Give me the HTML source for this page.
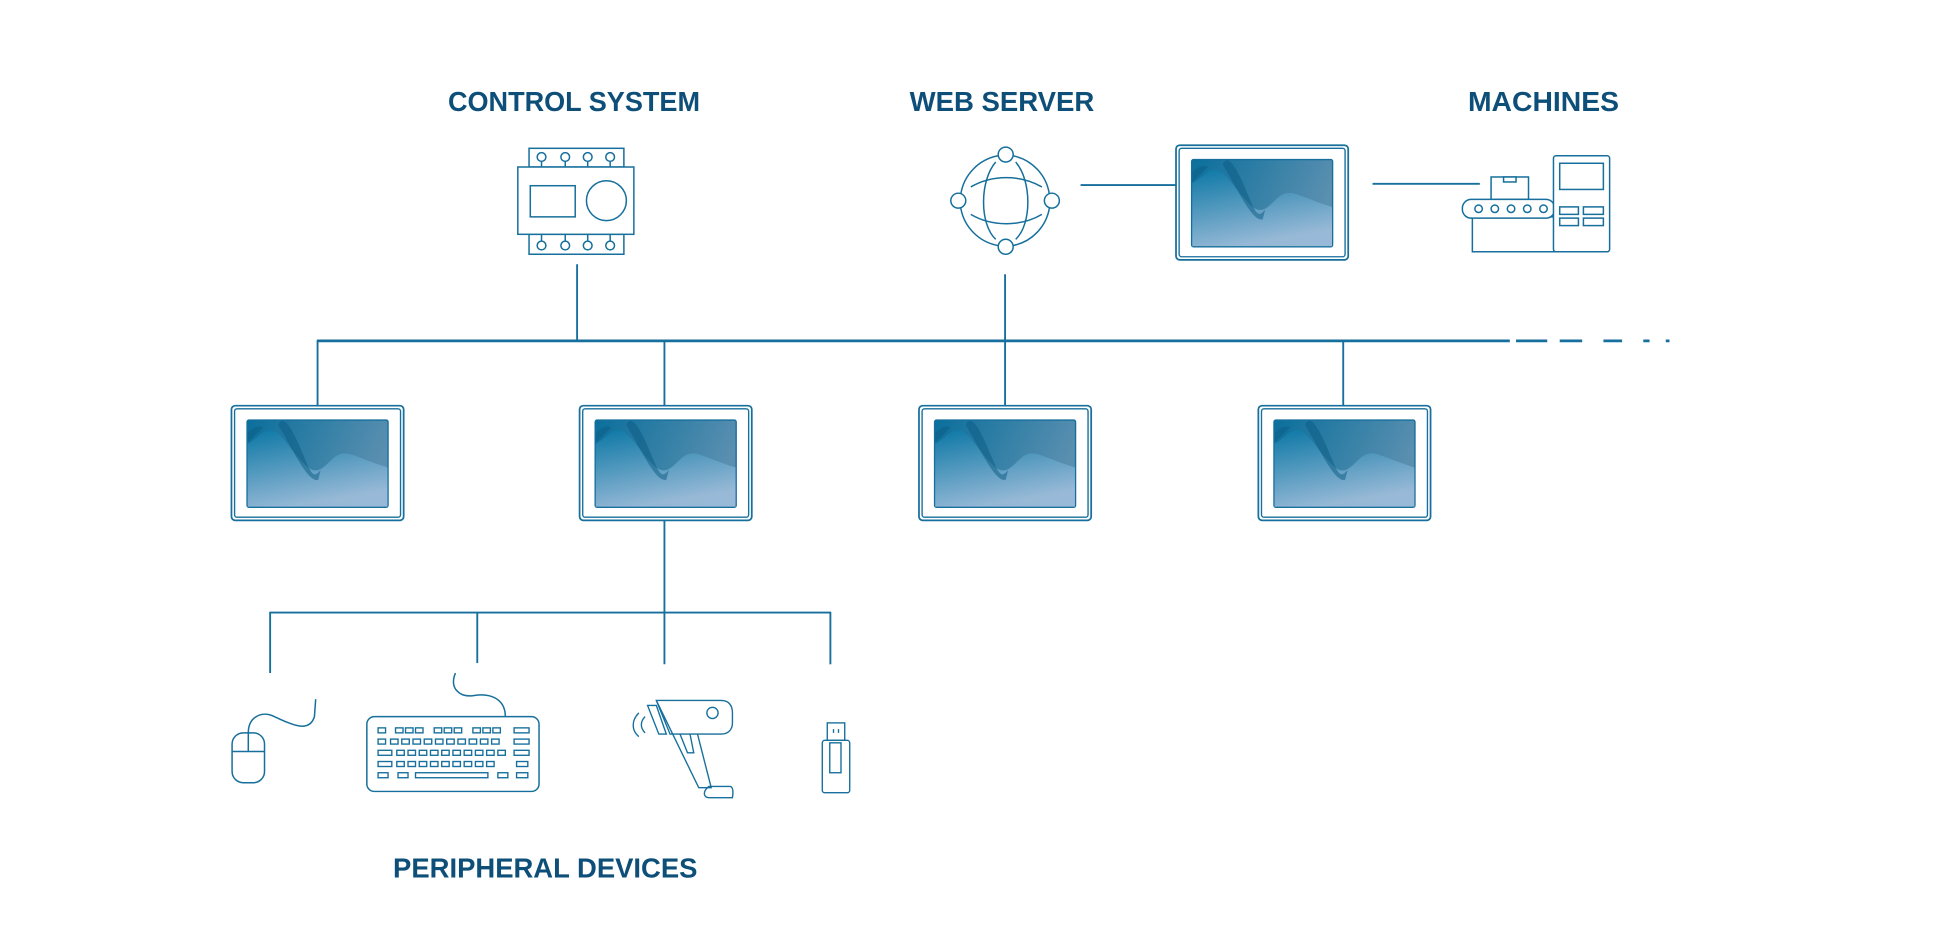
<!DOCTYPE html>
<html><head><meta charset="utf-8"><style>
html,body{margin:0;padding:0;background:#fff;}
svg{display:block;}
text{font-family:"Liberation Sans",sans-serif;font-weight:bold;fill:#0d4f78;}
</style></head><body>
<svg width="1954" height="941" viewBox="0 0 1566 755" preserveAspectRatio="none" xmlns="http://www.w3.org/2000/svg">
<defs>
<linearGradient id="g" x1="0" y1="0" x2="0.3" y2="1">
<stop offset="0" stop-color="#0b78a6"/><stop offset="1" stop-color="#9fbedb"/>
</linearGradient>
<linearGradient id="g2" x1="0" y1="0" x2="1" y2="0.3">
<stop offset="0" stop-color="#0a6f9c"/><stop offset="1" stop-color="#5a8fb0"/>
</linearGradient>
<g id="mon">
<rect x="0.5" y="0.5" width="138" height="92" rx="3" fill="#fff" stroke="#166f9c" stroke-width="1.4"/>
<rect x="3" y="3" width="133" height="87" rx="2" fill="none" stroke="#166f9c" stroke-width="1.1"/>
<rect x="13" y="12" width="113" height="70" rx="1.5" fill="url(#g2)" stroke="#166f9c" stroke-width="1.1"/>
<path d="M13.5 31 C20 28 25 20 32 20 C40 20 50 40 62 50 C72 58 78 44 86 40 C94 36 100 42 125.5 50 L125.5 81.5 L13.5 81.5 Z" fill="url(#g)" opacity="0.9"/>
<path d="M13.5 22 C18 18 22 16 26 18 L13.5 30 Z" fill="#0d6088" opacity="0.6"/>
<path d="M38 16 C42 6 50 20 58 40 C64 54 66 60 72 52 L70 60 C62 62 52 40 38 16 Z" fill="#0c5a82" opacity="0.5"/>
</g>
</defs>

<g stroke="#166f9c" stroke-width="1.5" fill="none">
<line x1="254" y1="273.5" x2="1210" y2="273.5" stroke-width="2.2"/>
<path d="M1215 273.5h25M1250 273.5h18M1285 273.5h15M1317 273.5h5M1335 273.5h3" stroke-width="2.2"/>
<line x1="254.5" y1="273" x2="254.5" y2="326"/>
<line x1="532.5" y1="273" x2="532.5" y2="326"/>
<line x1="805.5" y1="220" x2="805.5" y2="326"/>
<line x1="1076.5" y1="273" x2="1076.5" y2="326"/>
<line x1="462.5" y1="212" x2="462.5" y2="273"/>
<line x1="866" y1="148.5" x2="951" y2="148.5"/>
<line x1="1100" y1="147.5" x2="1186" y2="147.5"/>
<line x1="532.5" y1="418" x2="532.5" y2="533"/>
<line x1="216" y1="491.5" x2="666" y2="491.5"/>
<line x1="216.5" y1="491" x2="216.5" y2="540"/>
<line x1="382.5" y1="491" x2="382.5" y2="532"/>
<line x1="665.5" y1="491" x2="665.5" y2="533"/>
</g>

<use href="#mon" x="185" y="325"/>
<use href="#mon" x="464" y="325"/>
<use href="#mon" x="736" y="325"/>
<use href="#mon" x="1008" y="325"/>
<use href="#mon" x="942" y="116"/>

<text x="460" y="89" font-size="22" text-anchor="middle" textLength="202" lengthAdjust="spacingAndGlyphs">CONTROL SYSTEM</text>
<text x="803" y="89" font-size="22" text-anchor="middle" textLength="148" lengthAdjust="spacingAndGlyphs">WEB SERVER</text>
<text x="1237" y="89" font-size="22" text-anchor="middle" textLength="121" lengthAdjust="spacingAndGlyphs">MACHINES</text>
<text x="437" y="704" font-size="22" text-anchor="middle" textLength="244" lengthAdjust="spacingAndGlyphs">PERIPHERAL DEVICES</text>

<g stroke="#166f9c" stroke-width="1.2" fill="#fff">
<rect x="424" y="119" width="76" height="15"/>
<rect x="424" y="188" width="76" height="16"/>
<rect x="415" y="134" width="93" height="54"/>
<rect x="425" y="149" width="36" height="25"/>
<circle cx="486" cy="161" r="16"/>
<g>
<circle cx="434" cy="126" r="3.5"/><circle cx="453" cy="126" r="3.5"/><circle cx="471" cy="126" r="3.5"/><circle cx="489" cy="126" r="3.5"/>
<circle cx="434" cy="197" r="3.5"/><circle cx="453" cy="197" r="3.5"/><circle cx="471" cy="197" r="3.5"/><circle cx="489" cy="197" r="3.5"/>
<path d="M434 130v4M453 130v4M471 130v4M489 130v4M434 188v5M453 188v5M471 188v5M489 188v5"/>
</g>
<g fill="none">
<path d="M800 125 A37 37 0 0 0 770 156"/><path d="M812 125 A37 37 0 0 1 841 156"/>
<path d="M770 167 A37 37 0 0 0 800 197"/><path d="M841 167 A37 37 0 0 1 812 197"/>
<path d="M798 130 C785 145 785 180 798 192"/><path d="M814 130 C827 145 827 180 814 192"/>
<path d="M778 150 C795 140 818 140 835 150"/><path d="M778 172 C795 182 818 182 835 172"/>
</g>
<circle cx="806" cy="124" r="6"/><circle cx="768" cy="161" r="6"/><circle cx="843" cy="161" r="6"/><circle cx="806" cy="198" r="6"/>
<rect x="1180" y="174" width="66" height="28"/>
<rect x="1195" y="142" width="30" height="18"/>
<rect x="1205" y="142" width="10" height="4"/>
<rect x="1172" y="160" width="74" height="15" rx="7"/>
<circle cx="1185" cy="167.5" r="3"/><circle cx="1198" cy="167.5" r="3"/><circle cx="1211" cy="167.5" r="3"/><circle cx="1224" cy="167.5" r="3"/><circle cx="1237" cy="167.5" r="3"/>
<rect x="1245" y="125" width="45" height="77" rx="2"/>
<rect x="1250" y="131" width="35" height="21"/>
<rect x="1250" y="166" width="15" height="6"/><rect x="1269" y="166" width="16" height="6"/>
<rect x="1250" y="175" width="15" height="6"/><rect x="1269" y="175" width="16" height="6"/>
<rect x="186" y="588" width="26" height="40" rx="9"/>
<path d="M186 603h26M199 588v15" fill="none"/>
<path d="M199 588 C199 575 210 570 220 575 C235 582 248 588 252 575 L253 561" fill="none"/>
<path d="M365 540 C360 552 368 560 380 558 C392 556 405 560 405 575" fill="none"/>
<rect x="294" y="575" width="138" height="60" rx="6"/>
</g>
<g stroke="#166f9c" stroke-width="1.1" fill="none">
<rect x="303" y="584" width="6" height="4"/><rect x="317" y="584" width="6" height="4"/><rect x="325" y="584" width="6" height="4"/><rect x="333" y="584" width="6" height="4"/><rect x="348" y="584" width="6" height="4"/><rect x="356" y="584" width="6" height="4"/><rect x="364" y="584" width="6" height="4"/><rect x="379" y="584" width="6" height="4"/><rect x="387" y="584" width="6" height="4"/><rect x="395" y="584" width="6" height="4"/><rect x="412" y="584" width="12" height="4"/>
<rect x="303" y="593" width="6" height="4"/><rect x="313" y="593" width="6" height="4"/><rect x="322" y="593" width="6" height="4"/><rect x="331" y="593" width="6" height="4"/><rect x="340" y="593" width="6" height="4"/><rect x="349" y="593" width="6" height="4"/><rect x="358" y="593" width="6" height="4"/><rect x="367" y="593" width="6" height="4"/><rect x="376" y="593" width="6" height="4"/><rect x="385" y="593" width="6" height="4"/><rect x="394" y="593" width="6" height="4"/><rect x="412" y="593" width="12" height="4"/>
<rect x="303" y="602" width="11" height="4"/><rect x="318" y="602" width="6" height="4"/><rect x="327" y="602" width="6" height="4"/><rect x="336" y="602" width="6" height="4"/><rect x="345" y="602" width="6" height="4"/><rect x="354" y="602" width="6" height="4"/><rect x="363" y="602" width="6" height="4"/><rect x="372" y="602" width="6" height="4"/><rect x="381" y="602" width="6" height="4"/><rect x="390" y="602" width="6" height="4"/><rect x="399" y="602" width="6" height="4"/><rect x="412" y="602" width="12" height="4"/>
<rect x="303" y="611" width="11" height="4"/><rect x="318" y="611" width="6" height="4"/><rect x="327" y="611" width="6" height="4"/><rect x="336" y="611" width="6" height="4"/><rect x="345" y="611" width="6" height="4"/><rect x="354" y="611" width="6" height="4"/><rect x="363" y="611" width="6" height="4"/><rect x="372" y="611" width="6" height="4"/><rect x="381" y="611" width="6" height="4"/><rect x="390" y="611" width="6" height="4"/><rect x="414" y="611" width="9" height="4"/>
<rect x="303" y="620" width="8" height="4"/><rect x="319" y="620" width="8" height="4"/><rect x="333" y="620" width="58" height="4"/><rect x="399" y="620" width="8" height="4"/><rect x="414" y="620" width="9" height="4"/>
<path d="M526 562 L578 562 C584 562 587 566 587 572 L587 580 C587 585 584 589 578 589 L559 589 L570 632 L560 632 Z M526 562 L537 589 L559 589"/>
<path d="M545 589 L551 604 L556 604 L553 589"/>
<path d="M519 566 L526 566 L534 589 L528 589 Z"/>
<circle cx="571" cy="572" r="4.5"/>
<path d="M568 631 L585 631 C587 631 588 634 587 640 L568 640 C565 640 563 637 566 633 Z"/>
<path d="M512 572 C506 578 506 586 512 591 M517 575 C513 579 513 584 517 588"/>
<rect x="663" y="580" width="14" height="14"/>
<path d="M668 585v3M672 585v3"/>
<rect x="659" y="594" width="22" height="42" rx="2" fill="#fff"/>
<rect x="665" y="596" width="9" height="24"/>
</g>
</svg>
</body></html>
